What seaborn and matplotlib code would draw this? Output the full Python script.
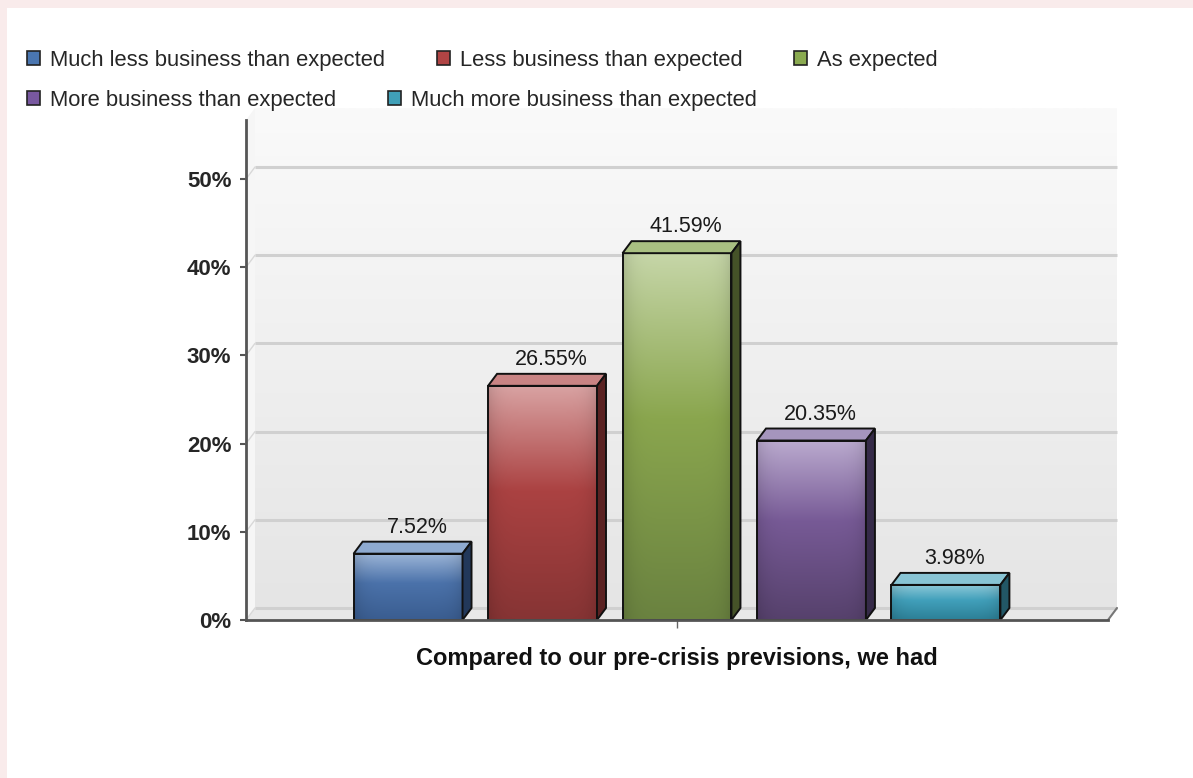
import matplotlib

matplotlib.use("Agg")
import matplotlib.pyplot as plt
import numpy as np
import pandas as pd
import seaborn as sns
from matplotlib.colors import to_rgb
from matplotlib.patches import Polygon, Rectangle

group = "Compared to our pre-crisis previsions, we had"
responses = [
    "Much less business than expected",
    "Less business than expected",
    "As expected",
    "More business than expected",
    "Much more business than expected",
]
shares = [7.52, 26.55, 41.59, 20.35, 3.98]
y_ticks = [0, 10, 20, 30, 40, 50]
y_tick_labels = ["0%", "10%", "20%", "30%", "40%", "50%"]

# front gradient (top, middle, bottom), top face, side face, legend swatch
shades = {
    responses[0]: ("#9db6d8", "#4b72aa", "#3a5d90", "#8eaad0", "#22385a", "#4a76b0"),
    responses[1]: ("#d9a3a3", "#ab4242", "#863434", "#c98484", "#5a2222", "#b04444"),
    responses[2]: ("#c6d6a8", "#8aa64e", "#6a8240", "#a9c082", "#455228", "#8aaa50"),
    responses[3]: ("#bbabcf", "#775a96", "#56416c", "#a595bd", "#352a48", "#7858a0"),
    responses[4]: ("#90cad9", "#41a0bb", "#2c7f96", "#88c4d4", "#225766", "#40a0b8"),
}

W, H = 1193, 778
DX, DY = 9, 12  # depth of the fake 3d, pixels
FONT = ["Liberation Sans Narrow", "Liberation Sans", "DejaVu Sans"]


def main():
    sns.set_theme(style="white")
    plt.rcParams["font.family"] = FONT

    fig = plt.figure(figsize=(W / 100, H / 100), dpi=100)
    fig.patch.set_facecolor("#f9ebeb")
    fig.add_artist(Rectangle((7 / W, 0), 1, 1 - 8 / H, transform=fig.transFigure,
                             facecolor="white", edgecolor="none", zorder=-10))

    ax = fig.add_axes([246 / W, 1 - 620 / H, 862 / W, 500 / H])
    ax.set_facecolor("none")

    df = pd.DataFrame({"group": group, "response": responses, "share": shares})
    sns.barplot(data=df, x="group", y="share", hue="response", hue_order=responses,
                palette=[shades[r][1] for r in responses], width=0.78, gap=0.19,
                legend=False, edgecolor="#111111", linewidth=1.4, ax=ax)

    ymax = 500 / 88.2 * 10
    ax.set_xlim(-0.5, 0.5)
    ax.set_ylim(0, ymax)

    px = ax.transData.transform((0, 0))
    off = ax.transData.inverted().transform((px[0] + DX, px[1] + DY))
    ddx, ddy = off[0], off[1]

    # back wall
    wall = np.linspace(to_rgb("#e5e5e5"), to_rgb("#fafafa"), 200).reshape(200, 1, 3)
    ax.imshow(wall, extent=[-0.5 + ddx, 0.5 + ddx, ddy, ymax + ddy], origin="lower",
              aspect="auto", zorder=0, clip_on=False)
    ax.add_patch(Polygon([(-0.5, 0), (-0.5 + ddx, ddy), (-0.5 + ddx, ymax + ddy), (-0.5, ymax)],
                         facecolor="#f6f6f6", edgecolor="none", zorder=0.4, clip_on=False))
    ax.add_patch(Polygon([(-0.5, 0), (0.5, 0), (0.5 + ddx, ddy), (-0.5 + ddx, ddy)],
                         facecolor="#e8e8e8", edgecolor="none", zorder=0.6, clip_on=False))
    for t in y_ticks:
        ax.plot([-0.5 + ddx, 0.5 + ddx], [t + ddy, t + ddy], color="#d0d0d0", lw=2.2,
                zorder=0.7, clip_on=False, solid_capstyle="butt")
        ax.plot([-0.5, -0.5 + ddx], [t, t + ddy], color="#d8d8d8", lw=1, zorder=0.7, clip_on=False)
    ax.plot([0.5, 0.5 + ddx], [0, ddy], color="#777777", lw=1.5, zorder=0.8, clip_on=False)

    # bars: gradient front, top face, side face
    rows, cols = 200, 60
    u = np.linspace(0, 1, cols)
    edge = 1 - 0.12 * np.abs(2 * u - 1) ** 6
    for patch, resp, val in zip(ax.patches, responses, shares):
        top_c, mid_c, bot_c, lid_c, side_c, _ = shades[resp]
        x0, w, h = patch.get_x(), patch.get_width(), patch.get_height()
        v = np.linspace(0, 1, rows)[:, None]
        lower = np.clip(v / 0.55, 0, 1)
        upper = np.clip((v - 0.55) / 0.45, 0, 1)
        c_top, c_mid, c_bot = (np.array(to_rgb(c)) for c in (top_c, mid_c, bot_c))
        col = np.where((v < 0.55)[..., None],
                       c_bot + (c_mid - c_bot) * lower[..., None],
                       c_mid + (c_top - c_mid) * upper[..., None])
        img = np.clip(col * edge[None, :, None], 0, 1)
        im = ax.imshow(img, extent=[x0, x0 + w, 0, h], origin="lower", aspect="auto", zorder=2.5)
        im.set_clip_path(patch)
        patch.set_facecolor("none")
        patch.set_zorder(3)

        ax.add_patch(Polygon([(x0, h), (x0 + ddx, h + ddy), (x0 + w + ddx, h + ddy), (x0 + w, h)],
                             facecolor=lid_c, edgecolor="#111111", lw=1.4, zorder=3))
        ax.add_patch(Polygon([(x0 + w, 0), (x0 + w + ddx, ddy), (x0 + w + ddx, h + ddy), (x0 + w, h)],
                             facecolor=side_c, edgecolor="#111111", lw=1.4, zorder=3))
        ax.annotate(f"{val:.2f}%", xy=(x0 + w / 2, h), xytext=(DX, DY + 9),
                    textcoords="offset pixels", ha="center", va="baseline",
                    fontsize=15.5, color="#1a1a1a")

    ax.set_xlim(-0.5, 0.5)
    ax.set_ylim(0, ymax)

    for side in ["top", "right"]:
        ax.spines[side].set_visible(False)
    for side in ["left", "bottom"]:
        ax.spines[side].set_color("#555555")
        ax.spines[side].set_linewidth(2)
        ax.spines[side].set_zorder(4)

    ax.set_yticks(y_ticks, y_tick_labels, fontsize=16, fontweight="bold")
    ax.set_xticks([0], [""])
    ax.tick_params(axis="y", direction="out", length=4.5, width=1.5, color="#555555", pad=6,
                   left=True)
    ax.tick_params(axis="x", direction="out", length=6, width=1, color="#666666", bottom=True)
    ax.set_ylabel("")
    ax.set_xlabel(group, fontsize=17, fontweight="bold", labelpad=10, color="#111111")

    handles = [Rectangle((0, 0), 1, 1, facecolor=shades[r][5], edgecolor="#222222", lw=1.2)
               for r in responses]
    common = dict(loc="upper left", frameon=False, fontsize=15.8, handlelength=0.6,
                  handleheight=0.6, handletextpad=0.45, columnspacing=2.35,
                  borderpad=0, borderaxespad=0)
    fig.legend(handles[:3], responses[:3], ncol=3, bbox_to_anchor=(27 / W, 1 - 50 / H), **common)
    fig.legend(handles[3:], responses[3:], ncol=2, bbox_to_anchor=(27 / W, 1 - 90 / H), **common)

    fig.savefig("out.png", dpi=100)


if __name__ == "__main__":
    main()
